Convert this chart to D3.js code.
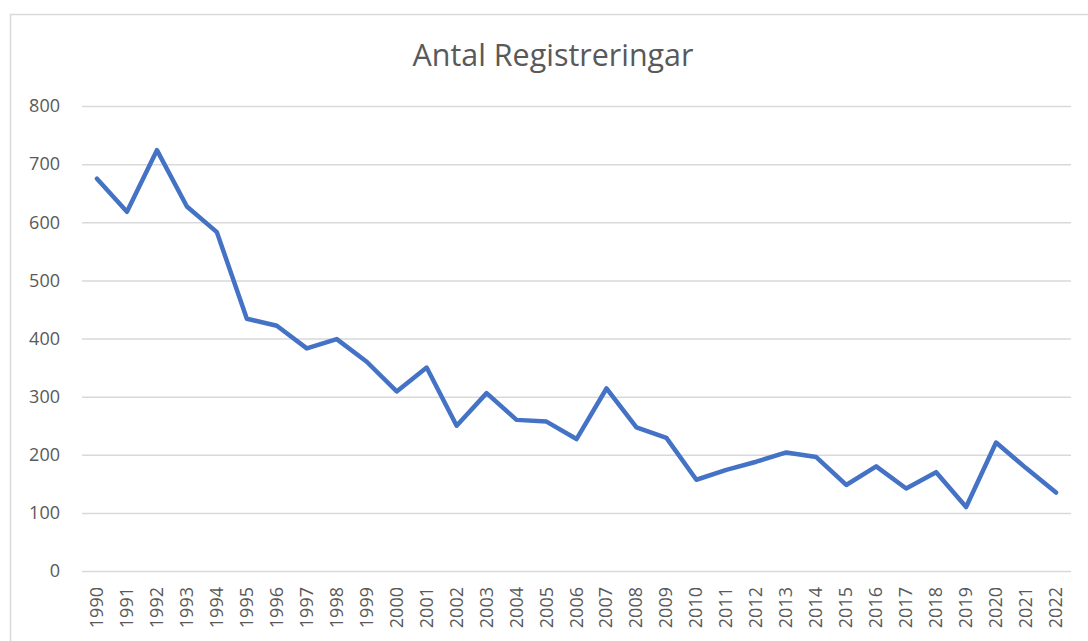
<!DOCTYPE html>
<html><head><meta charset="utf-8">
<script src="https://cdn.jsdelivr.net/npm/d3@7"></script>
<style>html,body{margin:0;padding:0;background:#fff;overflow:hidden}</style>
</head><body>
<svg id="c" width="1088" height="641"></svg>
<script>
const title = "Antal Registreringar";
const years = ["1990","1991","1992","1993","1994","1995","1996","1997","1998","1999","2000","2001","2002","2003","2004","2005","2006","2007","2008","2009","2010","2011","2012","2013","2014","2015","2016","2017","2018","2019","2020","2021","2022"];
const values = [675,618,724,627,583,434,422,383,399,360,309,350,250,306,260,257,227,314,247,229,157,174,188,204,196,148,180,142,170,110,221,177,135];
const yTicks = [0,100,200,300,400,500,600,700,800];

(function(){
const svg = d3.select("#c");
const mLeft = 82, mRight = 1071, mTop = 106, mBottom = 571;

// chart border
svg.append("rect").attr("x",10.5).attr("y",14.5).attr("width",1100).attr("height",700)
  .attr("fill","#fff").attr("stroke","#d9d9d9").attr("stroke-width",1.5);

const x = d3.scaleBand().domain(years).range([mLeft,mRight]).paddingInner(0).paddingOuter(0);
const y = d3.scaleLinear().domain([0,800]).range([mBottom,mTop]);

// gridlines
const yAxis = d3.axisLeft(y).tickValues(yTicks).tickSize(-(mRight-mLeft)).tickPadding(22);
const gy = svg.append("g").attr("transform",`translate(${mLeft},0)`).call(yAxis);
gy.select(".domain").remove();
gy.selectAll(".tick line").attr("stroke","#d9d9d9").attr("stroke-width",1.5);
gy.selectAll(".tick text").attr("fill","#595959").attr("font-family","'Open Sans', sans-serif")
  .attr("font-size","18px");

// x axis labels
const xAxis = d3.axisBottom(x).tickSize(0).tickPadding(0);
const gx = svg.append("g").attr("transform",`translate(0,${mBottom})`).call(xAxis);
gx.select(".domain").remove();
gx.selectAll(".tick text")
  .attr("fill","#595959").attr("font-family","'Open Sans', sans-serif").attr("font-size","18px")
  .attr("text-anchor","end").attr("dy",null).attr("y",0)
  .attr("transform","translate(6,16) rotate(-90)");

// line
const line = d3.line().x((d,i)=>x(years[i])+x.bandwidth()/2).y(d=>y(d));
svg.append("path").datum(values).attr("d",line).attr("fill","none")
  .attr("stroke","#4472C4").attr("stroke-width",4.5).attr("stroke-linejoin","round").attr("stroke-linecap","round");

// title
const t = svg.append("text").attr("x",553).attr("y",66).attr("text-anchor","middle")
  .attr("fill","#595959").attr("font-family","'Open Sans', sans-serif").attr("font-size","26px").text(title);
const len = t.node().getComputedTextLength();
t.attr("font-size", (26*281/len).toFixed(2)+"px");
})();
</script>
</body></html>
